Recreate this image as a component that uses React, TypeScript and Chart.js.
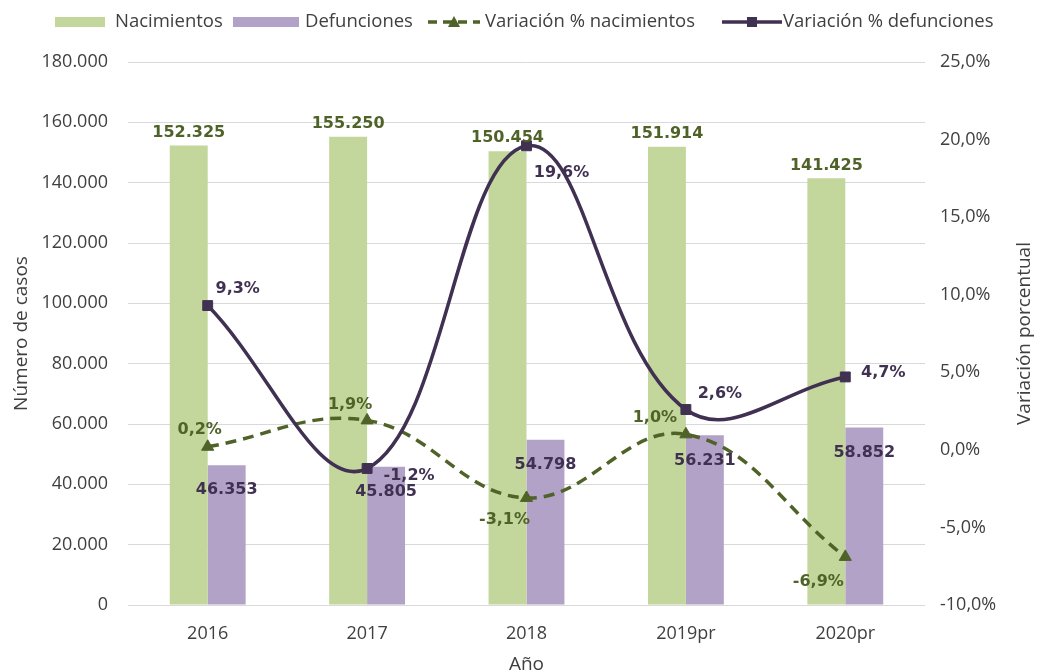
import React, { useEffect, useRef } from "react";
import { Chart, registerables } from "chart.js";

Chart.register(...registerables);

// ---- data ----
const categories = ["2016", "2017", "2018", "2019pr", "2020pr"];
const nacimientos = [152325, 155250, 150454, 151914, 141425];
const defunciones = [46353, 45805, 54798, 56231, 58852];
const varNacimientos = [0.2, 1.9, -3.1, 1.0, -6.9];
const varDefunciones = [9.3, -1.2, 19.6, 2.6, 4.7];
const leftAxis = { min: 0, max: 180000, step: 20000 };
const rightAxis = { min: -10, max: 25, step: 5 };
const legendLabels = ["Nacimientos", "Defunciones", "Variación % nacimientos", "Variación % defunciones"];
const axisTitles = { x: "Año", y: "Número de casos", y1: "Variación porcentual" };

// ---- layout-only values (px) ----
const offNac = [[-8, -17], [-17, -16], [-22, 22], [-31, -16], [-27, 25]];
const offDef = [[30, -17], [42, 7], [35, 27], [34, -16], [38, -4]];
const legendSymX = [55, 233, 428, 722];
const legendSymW = [50, 66, 52, 60];
const legendTextX = [115, 305, 485, 783];

const GREEN_BAR = "#c3d69b";
const PURPLE_BAR = "#b3a2c7";
const GREEN_LINE = "#4f6228";
const PURPLE_LINE = "#403152";
const TEXT = "#404040";
const AXIS_FONT = "Open Sans";

const fmtThousands = (v: number) =>
  Math.round(v).toString().replace(/\B(?=(\d{3})+(?!\d))/g, ".");
const fmtPct = (v: number) => v.toFixed(1).replace(".", ",") + "%";

const labelsPlugin = {
  id: "customLabels",
  afterDatasetsDraw(chart: any) {
    const ctx = chart.ctx;
    ctx.save();
    ctx.font = "bold 16px 'DejaVu Sans'";
    ctx.textAlign = "center";
    ctx.textBaseline = "middle";
    const m0 = chart.getDatasetMeta(0);
    ctx.fillStyle = GREEN_LINE;
    m0.data.forEach((el: any, i: number) => {
      ctx.fillText(fmtThousands(nacimientos[i]), el.x, el.y - 13);
    });
    const m1 = chart.getDatasetMeta(1);
    ctx.fillStyle = PURPLE_LINE;
    m1.data.forEach((el: any, i: number) => {
      ctx.fillText(fmtThousands(defunciones[i]), el.x, el.y + 25);
    });
    const m2 = chart.getDatasetMeta(2);
    ctx.fillStyle = GREEN_LINE;
    m2.data.forEach((el: any, i: number) => {
      ctx.fillText(fmtPct(varNacimientos[i]), el.x + offNac[i][0], el.y + offNac[i][1]);
    });
    const m3 = chart.getDatasetMeta(3);
    ctx.fillStyle = PURPLE_LINE;
    m3.data.forEach((el: any, i: number) => {
      ctx.fillText(fmtPct(varDefunciones[i]), el.x + offDef[i][0], el.y + offDef[i][1]);
    });
    ctx.restore();
  },
};

const legendPlugin = {
  id: "customLegend",
  afterDraw(chart: any) {
    const ctx = chart.ctx;
    ctx.save();
    ctx.font = `18.5px '${AXIS_FONT}'`;
    ctx.textBaseline = "middle";
    ctx.textAlign = "left";
    const y = 22;
    legendLabels.forEach((label, i) => {
      const x = legendSymX[i];
      const w = legendSymW[i];
      if (i === 0 || i === 1) {
        ctx.fillStyle = i === 0 ? GREEN_BAR : PURPLE_BAR;
        ctx.fillRect(x, y - 5, w, 10);
      } else if (i === 2) {
        ctx.strokeStyle = GREEN_LINE;
        ctx.lineWidth = 3.5;
        ctx.setLineDash([9, 6]);
        ctx.beginPath();
        ctx.moveTo(x, y);
        ctx.lineTo(x + w, y);
        ctx.stroke();
        ctx.setLineDash([]);
        ctx.fillStyle = GREEN_LINE;
        ctx.beginPath();
        ctx.moveTo(x + w / 2, y - 6);
        ctx.lineTo(x + w / 2 + 6, y + 5);
        ctx.lineTo(x + w / 2 - 6, y + 5);
        ctx.closePath();
        ctx.fill();
      } else {
        ctx.strokeStyle = PURPLE_LINE;
        ctx.lineWidth = 3.5;
        ctx.beginPath();
        ctx.moveTo(x, y);
        ctx.lineTo(x + w, y);
        ctx.stroke();
        ctx.fillStyle = PURPLE_LINE;
        ctx.fillRect(x + w / 2 - 5, y - 5, 10, 10);
      }
      ctx.fillStyle = TEXT;
      ctx.fillText(label, legendTextX[i], y);
    });
    ctx.restore();
  },
};

const axisTitlePlugin = {
  id: "axisTitles",
  afterDraw(chart: any) {
    const ctx = chart.ctx;
    const area = chart.chartArea;
    const cy = (area.top + area.bottom) / 2;
    ctx.save();
    ctx.font = `19px '${AXIS_FONT}'`;
    ctx.fillStyle = TEXT;
    ctx.textAlign = "center";
    ctx.textBaseline = "middle";
    // left
    ctx.save();
    ctx.translate(22, cy);
    ctx.rotate(-Math.PI / 2);
    ctx.fillText(axisTitles.y, 0, 0);
    ctx.restore();
    // right
    ctx.save();
    ctx.translate(1025, cy);
    ctx.rotate(-Math.PI / 2);
    ctx.fillText(axisTitles.y1, 0, 0);
    ctx.restore();
    // bottom
    ctx.fillText(axisTitles.x, (area.left + area.right) / 2, 665);
    ctx.restore();
  },
};

export default function App() {
  const ref = useRef<HTMLCanvasElement | null>(null);
  useEffect(() => {
    if (!ref.current) return;
    const tickFont = { family: AXIS_FONT, size: 18 };
    const chart = new Chart(ref.current, {
      type: "bar",
      data: {
        labels: categories,
        datasets: [
          {
            type: "bar",
            label: legendLabels[0],
            data: nacimientos,
            backgroundColor: GREEN_BAR,
            yAxisID: "y",
            order: 2,
            categoryPercentage: 0.476,
            barPercentage: 1,
          },
          {
            type: "bar",
            label: legendLabels[1],
            data: defunciones,
            backgroundColor: PURPLE_BAR,
            yAxisID: "y",
            order: 2,
            categoryPercentage: 0.476,
            barPercentage: 1,
          },
          {
            type: "line",
            label: legendLabels[2],
            data: varNacimientos,
            borderColor: GREEN_LINE,
            backgroundColor: GREEN_LINE,
            borderWidth: 3.5,
            borderDash: [11, 7],
            tension: 0.4,
            pointStyle: "triangle",
            pointRadius: 7,
            pointBorderWidth: 1,
            yAxisID: "y1",
            order: 1,
          },
          {
            type: "line",
            label: legendLabels[3],
            data: varDefunciones,
            borderColor: PURPLE_LINE,
            backgroundColor: PURPLE_LINE,
            borderWidth: 3.5,
            tension: 0.4,
            pointStyle: "rect",
            pointRadius: 7,
            pointBorderWidth: 1,
            yAxisID: "y1",
            order: 0,
          },
        ],
      } as any,
      options: {
        responsive: false,
        animation: false,
        layout: { padding: { top: 62, left: 0, right: 0, bottom: 0 } },
        plugins: { legend: { display: false }, tooltip: { enabled: false } },
        scales: {
          x: {
            grid: { display: false },
            border: { display: false },
            ticks: { font: tickFont, color: TEXT, padding: 10 },
            afterFit: (s: any) => {
              s.height = 65;
            },
          },
          y: {
            position: "left",
            min: leftAxis.min,
            max: leftAxis.max,
            grid: { color: "#d9d9d9", drawTicks: false, lineWidth: 1 },
            border: { display: false },
            ticks: {
              stepSize: leftAxis.step,
              font: tickFont,
              color: TEXT,
              padding: 20,
              callback: (v: any) => fmtThousands(Number(v)),
            },
            afterFit: (s: any) => {
              s.width = 128;
            },
          },
          y1: {
            position: "right",
            min: rightAxis.min,
            max: rightAxis.max,
            grid: { display: false, drawTicks: false },
            border: { display: false },
            ticks: {
              stepSize: rightAxis.step,
              font: tickFont,
              color: TEXT,
              padding: 15,
              callback: (v: any) => fmtPct(Number(v)),
            },
            afterFit: (s: any) => {
              s.width = 117;
            },
          },
        },
      } as any,
      plugins: [labelsPlugin, legendPlugin, axisTitlePlugin],
    });
    return () => chart.destroy();
  }, []);
  return (
    <div style={{ position: "fixed", left: 0, top: 0, width: 1042, height: 670, background: "#fff" }}>
      <canvas ref={ref} width={1042} height={670} style={{ display: "block" }} />
    </div>
  );
}
